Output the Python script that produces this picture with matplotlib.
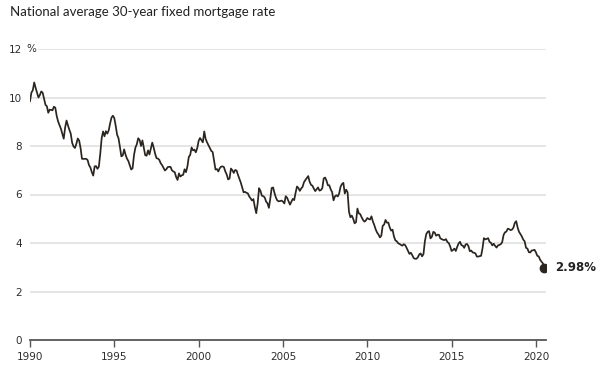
import numpy as np
import matplotlib
matplotlib.use("Agg")
import matplotlib.pyplot as plt
from matplotlib.transforms import blended_transform_factory

# Monthly 30-year fixed rate (%), Jan 1990 onwards
rates_1990s = [
    9.85, 10.20, 10.30, 10.62, 10.40, 10.20, 10.00, 10.10, 10.25, 10.20, 9.95, 9.70,   # 1990
    9.64, 9.37, 9.50, 9.49, 9.47, 9.62, 9.58, 9.24, 9.01, 8.86, 8.71, 8.50,           # 1991
    8.30, 8.76, 9.05, 8.85, 8.67, 8.51, 8.13, 7.98, 7.92, 8.09, 8.31, 8.22,           # 1992
    7.91, 7.47, 7.47, 7.47, 7.47, 7.42, 7.21, 7.11, 6.92, 6.78, 7.16, 7.17,           # 1993
    7.06, 7.15, 7.68, 8.32, 8.60, 8.40, 8.61, 8.51, 8.64, 8.93, 9.17, 9.25,           # 1994
    9.15, 8.83, 8.46, 8.32, 7.96, 7.57, 7.61, 7.86, 7.64, 7.48, 7.38, 7.20,           # 1995
    7.03, 7.08, 7.62, 7.93, 8.07, 8.32, 8.25, 8.00, 8.23, 7.92, 7.62, 7.60,           # 1996
    7.82, 7.65, 7.90, 8.14, 7.94, 7.69, 7.50, 7.48, 7.43, 7.29, 7.21, 7.10,           # 1997
    6.99, 7.04, 7.13, 7.14, 7.14, 7.00, 6.95, 6.92, 6.72, 6.60, 6.87, 6.74,           # 1998
    6.79, 6.81, 7.04, 6.92, 7.15, 7.55, 7.63, 7.94, 7.82, 7.85, 7.74, 7.91,           # 1999
]
rates_2000s = [
    8.21, 8.33, 8.24, 8.15, 8.60, 8.29, 8.15, 8.03, 7.91, 7.80, 7.75, 7.38,           # 2000
    7.03, 7.05, 6.95, 7.08, 7.15, 7.16, 7.13, 6.95, 6.82, 6.62, 6.66, 7.07,           # 2001
    7.00, 6.89, 7.01, 6.99, 6.81, 6.65, 6.49, 6.29, 6.09, 6.11, 6.07, 6.05,           # 2002
    5.92, 5.84, 5.75, 5.81, 5.48, 5.23, 5.63, 6.26, 6.15, 5.95, 5.93, 5.88,           # 2003
    5.71, 5.64, 5.45, 5.83, 6.27, 6.29, 6.06, 5.87, 5.75, 5.72, 5.73, 5.75,           # 2004
    5.71, 5.63, 5.93, 5.86, 5.72, 5.58, 5.70, 5.82, 5.77, 6.07, 6.33, 6.27,           # 2005
    6.15, 6.25, 6.32, 6.51, 6.60, 6.68, 6.76, 6.52, 6.40, 6.36, 6.24, 6.14,           # 2006
    6.22, 6.29, 6.16, 6.18, 6.26, 6.66, 6.70, 6.57, 6.38, 6.38, 6.21, 6.10,           # 2007
    5.76, 5.92, 5.97, 5.92, 6.04, 6.32, 6.43, 6.48, 6.04, 6.20, 6.09, 5.29,           # 2008
    5.06, 5.13, 5.00, 4.81, 4.86, 5.42, 5.22, 5.19, 5.06, 4.95, 4.88, 4.93,           # 2009
]
rates_2010s = [
    5.03, 4.99, 4.97, 5.10, 4.89, 4.74, 4.56, 4.43, 4.35, 4.23, 4.30, 4.71,           # 2010
    4.76, 4.95, 4.84, 4.84, 4.64, 4.51, 4.55, 4.27, 4.11, 4.07, 3.99, 3.96,           # 2011
    3.92, 3.89, 3.95, 3.91, 3.80, 3.68, 3.55, 3.60, 3.50, 3.38, 3.35, 3.35,           # 2012
    3.41, 3.53, 3.57, 3.45, 3.54, 4.07, 4.37, 4.46, 4.49, 4.19, 4.26, 4.46,           # 2013
    4.43, 4.30, 4.34, 4.34, 4.19, 4.16, 4.13, 4.12, 4.16, 4.04, 4.00, 3.86,           # 2014
    3.67, 3.71, 3.77, 3.67, 3.84, 3.98, 4.05, 3.91, 3.89, 3.80, 3.94, 3.96,           # 2015
    3.87, 3.66, 3.69, 3.61, 3.60, 3.57, 3.44, 3.44, 3.46, 3.47, 3.77, 4.20,           # 2016
    4.15, 4.17, 4.20, 4.05, 4.01, 3.90, 3.97, 3.88, 3.81, 3.90, 3.92, 3.95,           # 2017
    4.03, 4.33, 4.44, 4.47, 4.59, 4.57, 4.53, 4.55, 4.63, 4.83, 4.90, 4.64,           # 2018
    4.46, 4.37, 4.27, 4.14, 4.07, 3.80, 3.77, 3.62, 3.61, 3.69, 3.70, 3.72,           # 2019
]
rates_2020 = [3.62, 3.47, 3.45, 3.31, 3.23, 3.16, 2.98]

rates = np.array(rates_1990s + rates_2000s + rates_2010s + rates_2020)
years = 1990 + np.arange(len(rates)) / 12

y_ticks = [0, 2, 4, 6, 8, 10, 12]
x_ticks = [1990, 1995, 2000, 2005, 2010, 2015, 2020]

line_color = "#2b2520"
text_color = "#2e2e2e"

fig = plt.figure(figsize=(6.02, 3.72), dpi=100)
ax = fig.add_axes([30 / 602, 32 / 372, 516 / 602, 291 / 372])
ax.set_xlim(1990, 2020.6)
ax.set_ylim(0, 12)

# gridlines (the 12 line starts after the % sign)
for v in y_ticks[1:]:
    start = 0.018 if v == 12 else 0
    ax.axhline(v, xmin=start, xmax=1, color="#e3e3e3", lw=1.3, zorder=0)

ax.plot(years, rates, color=line_color, lw=1.25, zorder=3)
ax.plot(years[-1], rates[-1], "o", ms=6, color=line_color, zorder=4)
ax.annotate(f"{rates[-1]:.2f}%", (years[-1], rates[-1]), xytext=(8, 0),
            textcoords="offset points", va="center", ha="left",
            fontsize=8.5, fontweight="bold", color="#222222")

for s in ["top", "right", "left"]:
    ax.spines[s].set_visible(False)
ax.spines["bottom"].set_color("#555555")
ax.spines["bottom"].set_linewidth(1.3)

ax.set_xticks(x_ticks)
ax.set_xticklabels([str(x) for x in x_ticks])
ax.tick_params(axis="x", direction="out", length=5, width=1, color="#555555",
               labelsize=7.5, labelcolor=text_color, pad=4)
ax.set_yticks(y_ticks)
ax.set_yticklabels([str(v) for v in y_ticks])
ax.tick_params(axis="y", length=0, labelsize=7.5, labelcolor=text_color, pad=6)

# "%" sits right after the top tick label
trans = blended_transform_factory(ax.transAxes, ax.transData)
ax.text(-4 / 516, 12, "%", transform=trans, fontsize=7.5, color=text_color,
        va="center", ha="left")

fig.text(10 / 602, 1 - 12 / 372, "National average 30-year fixed mortgage rate",
         fontsize=9.5, family="Lato", color="#222222", va="center", ha="left")

fig.savefig("out.png", dpi=100)
